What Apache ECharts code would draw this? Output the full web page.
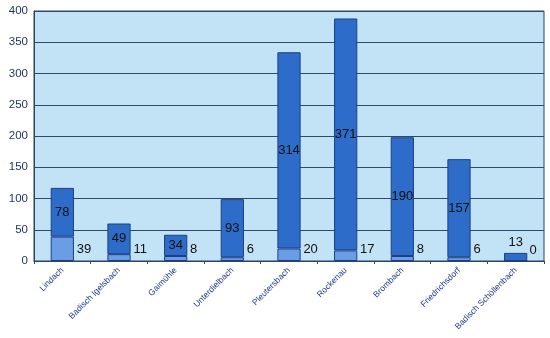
<!DOCTYPE html>
<html><head><meta charset="utf-8">
<script src="https://cdn.jsdelivr.net/npm/echarts@6/dist/echarts.min.js"></script>
<style>html,body{margin:0;padding:0;background:#fff}#c{width:550px;height:338px}</style>
</head><body><div id="c"></div>
<script>
const categories = ["Lindach","Badisch Igelsbach","Gaimühle","Unterdielbach","Pleutersbach","Rockenau","Brombach","Friedrichsdorf","Badisch Schöllenbach"];
const lowerValues = [39, 11, 8, 6, 20, 17, 8, 6, 0];
const upperValues = [78, 49, 34, 93, 314, 371, 190, 157, 13];
const yTicks = [0, 50, 100, 150, 200, 250, 300, 350, 400];

const chart = echarts.init(document.getElementById('c'), null, {renderer: 'canvas'});
const font = 'Liberation Sans, Arial, sans-serif';
chart.setOption({
  animation: false,
  backgroundColor: '#ffffff',
  grid: {left: 34, right: 6, top: 11, bottom: 77, show: true, backgroundColor: '#c2e2f6', borderColor: '#2a4566', borderWidth: 1},
  xAxis: {
    type: 'category', data: categories,
    axisLine: {lineStyle: {color: '#2a4566', width: 1}},
    axisTick: {show: true, length: 3, lineStyle: {color: '#2a4566'}},
    axisLabel: {rotate: 45, fontSize: 8.5, color: '#1e3a8a', fontFamily: font, interval: 0, margin: 8}
  },
  yAxis: {
    type: 'value', min: yTicks[0], max: yTicks[yTicks.length - 1], interval: 50,
    axisLine: {show: true, lineStyle: {color: '#2a4566'}},
    axisTick: {show: false},
    axisLabel: {fontSize: 11.5, color: '#1c2f5c', fontFamily: font, margin: 6},
    splitLine: {lineStyle: {color: '#2d4a68', width: 1}}
  },
  series: [
    {
      type: 'bar', stack: 't', data: lowerValues, barWidth: '41%',
      itemStyle: {color: '#6a9de6', borderColor: '#1d3f82', borderWidth: 1},
      label: {show: true, position: 'insideBottomLeft', offset: [21, 0], fontSize: 13, color: '#111', fontFamily: font}
    },
    {
      type: 'bar', stack: 't',
      data: upperValues.map(v => v < 20 ? {value: v, label: {position: 'top', distance: 4}} : v),
      itemStyle: {color: '#2e6cc9', borderColor: '#1d3f82', borderWidth: 1},
      label: {show: true, position: 'inside', fontSize: 13, color: '#111', fontFamily: font}
    }
  ]
});
</script></body></html>
